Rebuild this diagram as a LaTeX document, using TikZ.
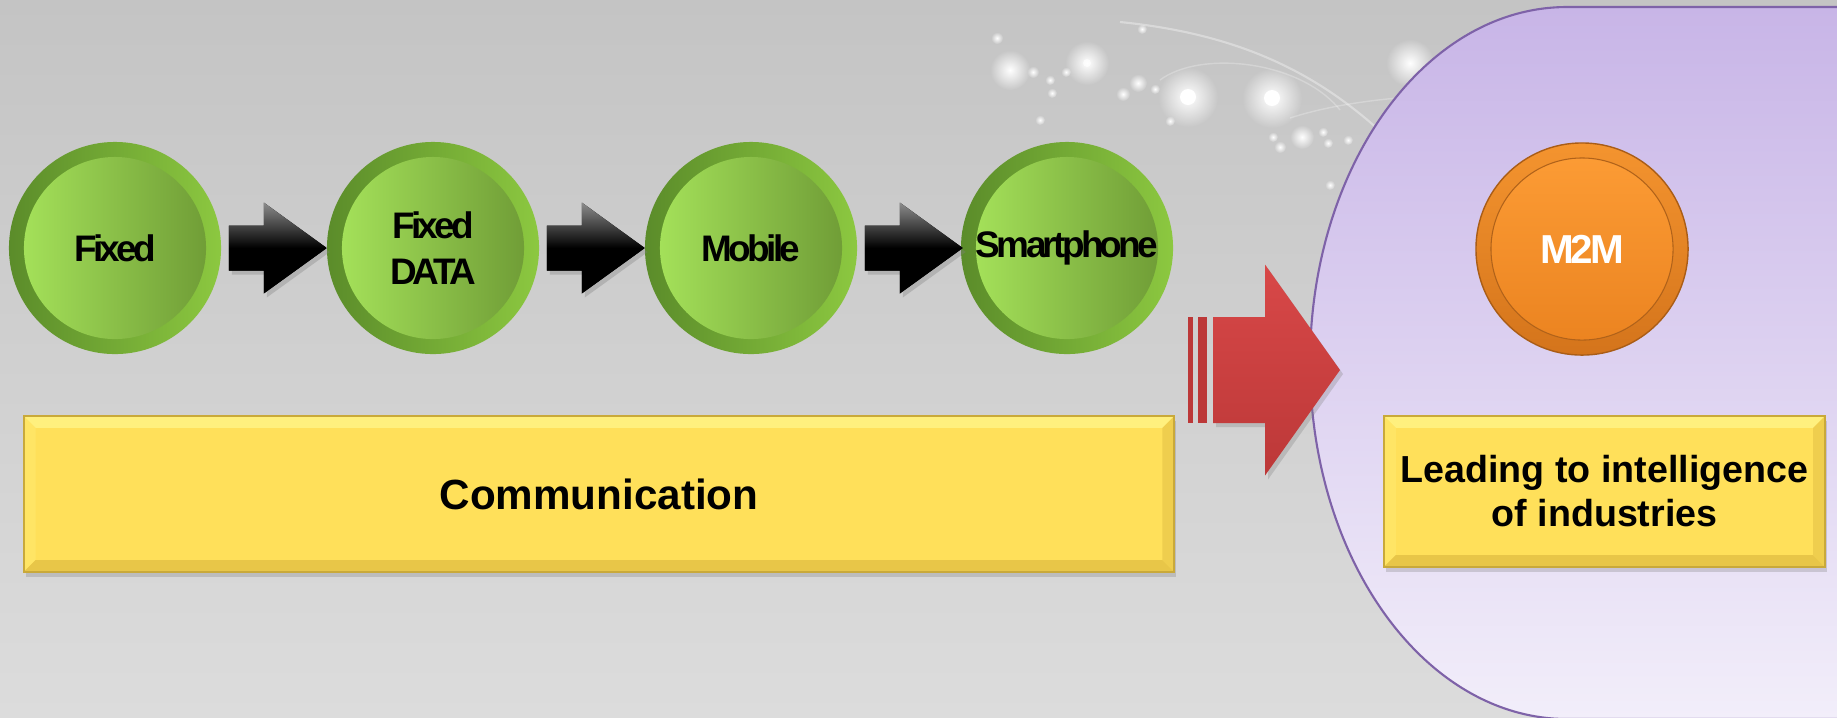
\documentclass[tikz,border=0pt]{standalone}
\usepackage{fontspec}
\setmainfont{Liberation Sans}
\newfontfamily\ballfont{Liberation Sans}[LetterSpace=-10]
\newfontfamily\mtwomfont{Liberation Sans}[LetterSpace=-8]
\usetikzlibrary{calc,shadows,fadings}

\definecolor{bgtop}{HTML}{C4C4C4}
\definecolor{bgbot}{HTML}{DCDCDC}
\definecolor{ringdark}{HTML}{5B8C2A}
\definecolor{ringlight}{HTML}{8CC840}
\definecolor{ballin1}{HTML}{A8E65C}
\definecolor{ballin2}{HTML}{6C9834}
\definecolor{boxyellow}{HTML}{FFE05A}
\definecolor{boxhi}{HTML}{FFF07E}
\definecolor{boxlo}{HTML}{E8C648}
\definecolor{boxedge}{HTML}{C9A93A}
\definecolor{redtop}{HTML}{D84848}
\definecolor{redbot}{HTML}{BC3838}
\definecolor{purtop}{HTML}{C8B5E7}
\definecolor{purbot}{HTML}{F2EEFA}
\definecolor{puredge}{HTML}{7E62A8}
\definecolor{orout1}{HTML}{F4942F}
\definecolor{orout2}{HTML}{D4741B}
\definecolor{orin1}{HTML}{FD9D36}
\definecolor{orin2}{HTML}{EA821F}
\definecolor{oredge}{HTML}{B0621A}

\tikzfading[name=glowfade,inner color=transparent!0,outer color=transparent!100]

\begin{document}
\begin{tikzpicture}[x=0.01cm,y=-0.01cm,
  ball/.style={circle,minimum size=2.12cm,inner sep=0pt,left color=ringdark,right color=ringlight,
    path picture={\shade[left color=ballin1,right color=ballin2] (path picture bounding box.center) circle[radius=0.91cm];},
    font=\ballfont\bfseries\fontsize{10.5}{13}\selectfont,align=center},
  mball/.style={circle,minimum size=2.12cm,inner sep=0pt,top color=orout1,bottom color=orout2,draw=orout2!80!black,
    path picture={\shade[top color=orin1,bottom color=orin2,draw=oredge,line width=0.3pt] (path picture bounding box.center) circle[radius=0.91cm];},
    font=\mtwomfont\bfseries\fontsize{11.5}{13}\selectfont,text=white},
  ybox/.style={rectangle,inner sep=0pt,fill=boxyellow,draw=boxedge,line width=0.5pt,align=center,
    drop shadow={opacity=0.3,shadow xshift=0.02cm,shadow yshift=-0.05cm},
    path picture={
      \fill[boxhi] (path picture bounding box.north west) -- (path picture bounding box.north east)
        -- ++(-0.12cm,-0.12cm) -- ($(path picture bounding box.north west)+(0.12cm,-0.12cm)$) -- cycle;
      \fill[boxyellow!70!boxhi] (path picture bounding box.north west) -- (path picture bounding box.south west)
        -- ++(0.12cm,0.12cm) -- ($(path picture bounding box.north west)+(0.12cm,-0.12cm)$) -- cycle;
      \fill[boxlo] (path picture bounding box.south west) -- (path picture bounding box.south east)
        -- ++(-0.12cm,0.12cm) -- ($(path picture bounding box.south west)+(0.12cm,0.12cm)$) -- cycle;
      \fill[boxlo!70!boxyellow] (path picture bounding box.north east) -- (path picture bounding box.south east)
        -- ++(-0.12cm,0.12cm) -- ($(path picture bounding box.north east)+(-0.12cm,-0.12cm)$) -- cycle;}},
  blk/.style={top color=black!45,bottom color=black,middle color=black,
    drop shadow={opacity=0.35,shadow xshift=0.03cm,shadow yshift=-0.04cm}}]

\useasboundingbox (0,0) rectangle (1837,717);
\clip (0,0) rectangle (1837,717);
\shade[top color=bgtop,bottom color=bgbot] (0,0) rectangle (1837,717);

% sparkles
\foreach \sx/\sy/\sr in {1188/97/30,1272/98/30,1087/63/22,1010/70/20,1410/63/24,1302/137/12,
  997/38/6,1033/72/6,1050/80/5,1066/72/5,1052/93/5,1123/94/7,1138/83/9,1155/89/5,1142/29/5,
  1040/120/5,1170/121/5,1323/132/5,1328/143/5,1280/147/6,1273/137/5,1348/140/5,1330/185/5}
  {\fill[white,path fading=glowfade] (\sx,\sy) circle[radius=\sr];}
\fill[white] (1188,97) circle[radius=8];
\fill[white] (1272,98) circle[radius=8];
\fill[white,opacity=0.7] (1087,63) circle[radius=4];
\draw[white,opacity=0.35,line width=0.6pt] (1120,22) .. controls (1250,35) and (1330,80) .. (1400,150);
\draw[white,opacity=0.25] (1160,80) .. controls (1200,50) and (1300,60) .. (1340,110);
\draw[white,opacity=0.25] (1290,118) .. controls (1330,105) and (1380,98) .. (1440,95);

% purple area
\shade[top color=purtop,bottom color=purbot,draw=puredge,line width=0.6pt]
  (1567,7) -- (1900,7) -- (1900,719) -- (1567,719) arc[start angle=90,end angle=270,x radius=257,y radius=356] -- cycle;

\node[ball] (fixed) at (115,248) {Fixed};
\node[ball] (fixeddata) at (433,248) {Fixed\\DATA};
\node[ball] (mobile) at (751,248) {Mobile};
\node[ball] (smartphone) at (1067,248) {Smartphone};

\fill[blk] ($(fixed.east)+(7,0)$) ++(0,-22.5) -- ++(35,0) -- ++(0,-23) -- ++(63,45.5) -- ++(-63,45.5) -- ++(0,-23) -- ++(-35,0) -- cycle;
\fill[blk] ($(fixeddata.east)+(7,0)$) ++(0,-22.5) -- ++(35,0) -- ++(0,-23) -- ++(63,45.5) -- ++(-63,45.5) -- ++(0,-23) -- ++(-35,0) -- cycle;
\fill[blk] ($(mobile.east)+(7,0)$) ++(0,-22.5) -- ++(35,0) -- ++(0,-23) -- ++(63,45.5) -- ++(-63,45.5) -- ++(0,-23) -- ++(-35,0) -- cycle;

\node[ybox,minimum width=11.5cm,minimum height=1.56cm,font=\bfseries\fontsize{12}{14}\selectfont] (comm) at (599,494) {Communication};

% red arrow
\coordinate (redtail) at (1213,370);
\fill[redbot] (1188,317) rectangle (1193,423);
\fill[redbot] (1198,317) rectangle (1207,423);
\shade[top color=redtop,bottom color=redbot,drop shadow={opacity=0.3,shadow xshift=0.03cm,shadow yshift=-0.04cm}]
  (redtail) ++(0,-53) -- ++(52,0) -- ++(0,-52.5) -- ++(75,105.5) -- ++(-75,105.5) -- ++(0,-52.5) -- ++(-52,0) -- cycle;

\node[mball] (m2m) at (1582,249) {M2M};
\node[ybox,minimum width=4.41cm,minimum height=1.51cm,font=\bfseries\fontsize{10.7}{12.5}\selectfont] (lead) at (1604.5,491.5) {Leading to intelligence\\of industries};
\end{tikzpicture}
\end{document}
